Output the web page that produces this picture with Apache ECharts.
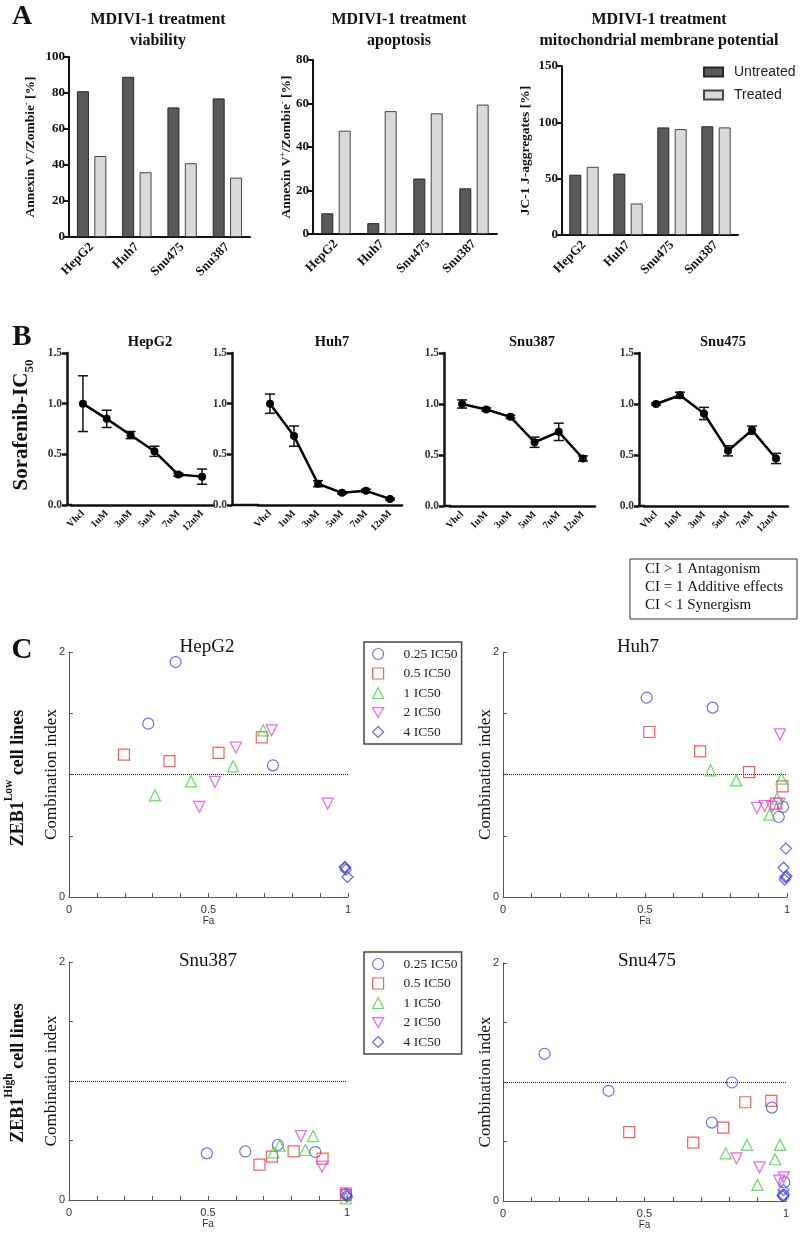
<!DOCTYPE html>
<html><head><meta charset="utf-8">
<script src="https://cdn.jsdelivr.net/npm/echarts/dist/echarts.min.js"></script>
<style>html,body{margin:0;padding:0;background:#fff}#c{width:800px;height:1240px}</style>
</head><body><div id="c"></div><script>
// ---------- DATA ----------
const cellLines = ['HepG2', 'Huh7', 'Snu475', 'Snu387'];
const viabilityUntreated = [81, 89, 72, 77];
const viabilityTreated = [45, 36, 41, 33];
const apoptosisUntreated = [9.5, 5, 25.5, 21];
const apoptosisTreated = [47.5, 56.5, 55.5, 59.5];
const mmpUntreated = [53.5, 54.5, 95.5, 96.5];
const mmpTreated = [60.5, 28, 94, 95.5];

const doses = ['Vhcl', '1uM', '3uM', '5uM', '7uM', '12uM'];
const ic50HepG2 = [1.00, 0.85, 0.69, 0.53, 0.30, 0.28];
const errHepG2 = [0.275, 0.085, 0.035, 0.05, 0.015, 0.075];
const ic50Huh7 = [1.00, 0.68, 0.21, 0.12, 0.14, 0.06];
const errHuh7 = [0.095, 0.10, 0.03, 0.01, 0.015, 0.01];
const ic50Snu387 = [1.00, 0.946, 0.874, 0.625, 0.727, 0.466];
const errSnu387 = [0.04, 0.015, 0.015, 0.05, 0.085, 0.025];
const ic50Snu475 = [1.00, 1.086, 0.907, 0.541, 0.744, 0.466];
const errSnu475 = [0.01, 0.03, 0.06, 0.05, 0.04, 0.05];

const doseNames = ['0.25 IC50', '0.5 IC50', '1 IC50', '2 IC50', '4 IC50'];
const hepg2Q = [[0.382, 1.918], [0.284, 1.415], [0.731, 1.075]];
const hepg2H = [[0.197, 1.162], [0.360, 1.110], [0.536, 1.176], [0.691, 1.303]];
const hepg2One = [[0.308, 0.830], [0.437, 0.944], [0.588, 1.067], [0.696, 1.361]];
const hepg2Two = [[0.467, 0.735], [0.523, 0.939], [0.598, 1.219], [0.726, 1.361], [0.927, 0.762]];
const hepg2Four = [[0.988, 0.245], [0.992, 0.223], [0.998, 0.163], [0.990, 0.240]];

const huh7Q = [[0.506, 1.627], [0.738, 1.546], [0.986, 0.735], [0.971, 0.653]];
const huh7H = [[0.515, 1.347], [0.694, 1.189], [0.866, 1.020], [0.984, 0.903], [0.962, 0.762]];
const huh7One = [[0.731, 1.034], [0.821, 0.952], [0.980, 0.966], [0.965, 0.803], [0.938, 0.672]];
const huh7Two = [[0.975, 1.328], [0.894, 0.727], [0.921, 0.743], [0.947, 0.735], [0.973, 0.762]];
const huh7Four = [[0.996, 0.395], [0.988, 0.239], [0.994, 0.163], [0.992, 0.141], [0.998, 0.169]];

const snu387Q = [[0.496, 0.392], [0.634, 0.408], [0.751, 0.462], [0.886, 0.403], [0.996, 0.050]];
const snu387H = [[0.685, 0.297], [0.730, 0.364], [0.808, 0.408], [0.912, 0.347], [0.996, 0.042]];
const snu387One = [[0.736, 0.400], [0.757, 0.456], [0.850, 0.420], [0.878, 0.537], [0.996, 0.014]];
const snu387Two = [[0.834, 0.537], [0.910, 0.280], [0.996, 0.056]];
const snu387Four = [[1.000, 0.028], [0.998, 0.042]];

const snu475Q = [[0.147, 1.237], [0.373, 0.926], [0.809, 0.996], [0.950, 0.785], [0.738, 0.659], [0.994, 0.157], [0.991, 0.050]];
const snu475H = [[0.446, 0.578], [0.672, 0.491], [0.778, 0.617], [0.856, 0.830], [0.948, 0.842]];
const snu475One = [[0.787, 0.401], [0.862, 0.471], [0.961, 0.351], [0.979, 0.471], [0.899, 0.135]];
const snu475Two = [[0.825, 0.359], [0.906, 0.283], [0.976, 0.171], [0.992, 0.199]];
const snu475Four = [[0.991, 0.093], [0.991, 0.050], [0.988, 0.042]];

// ---------- STYLE / LAYOUT ----------
const SERIF = '"Liberation Serif", "Times New Roman", serif';
const SANS = '"Liberation Sans", Arial, sans-serif';

const aCfg = [
  {left: 69, top: 57, width: 181, height: 180, max: 100, interval: 20, nameGap: 31,
   name: '{a|Annexin V}{s|-}{a|/Zombie}{s|-}{a| [%]}', u: viabilityUntreated, t: viabilityTreated,
   title: 'MDIVI-1 treatment\nviability', tx: 158},
  {left: 313, top: 60, width: 184, height: 174, max: 80, interval: 20, nameGap: 19,
   name: '{a|Annexin V}{s|+}{a|/Zombie}{s|-}{a| [%]}', u: apoptosisUntreated, t: apoptosisTreated,
   title: 'MDIVI-1 treatment\napoptosis', tx: 399},
  {left: 562, top: 66, width: 176, height: 169, max: 150, interval: 50, nameGap: 29,
   name: '{a|JC-1 J-aggregates [%]}', u: mmpUntreated, t: mmpTreated,
   title: 'MDIVI-1 treatment\nmitochondrial membrane potential', tx: 659}
];

const bCfg = [
  {title: 'HepG2', tx: 150, left: 71, axisX: 67, width: 143, top: 353, height: 152, v: ic50HepG2, e: errHepG2},
  {title: 'Huh7', tx: 332, left: 258, axisX: 232, width: 144, top: 353, height: 152, v: ic50Huh7, e: errHuh7},
  {title: 'Snu387', tx: 532, left: 450, axisX: 444, width: 145, top: 353, height: 153, v: ic50Snu387, e: errSnu387},
  {title: 'Snu475', tx: 723, left: 644, axisX: 639, width: 144, top: 353, height: 153, v: ic50Snu475, e: errSnu475}
];

const cCfg = [
  {title: 'HepG2', tx: 207, ty: 647, left: 69, top: 652, width: 279, height: 245, sets: [hepg2Q, hepg2H, hepg2One, hepg2Two, hepg2Four]},
  {title: 'Huh7', tx: 638, ty: 647, left: 503, top: 652, width: 284, height: 245, sets: [huh7Q, huh7H, huh7One, huh7Two, huh7Four]},
  {title: 'Snu387', tx: 208, ty: 961, left: 69, top: 962, width: 278, height: 238, sets: [snu387Q, snu387H, snu387One, snu387Two, snu387Four]},
  {title: 'Snu475', tx: 647, ty: 961, left: 503, top: 963, width: 283, height: 238, sets: [snu475Q, snu475H, snu475One, snu475Two, snu475Four]}
];

const doseStyle = [
  {symbol: 'circle', rotate: 0, color: '#4848e4', icon: 'circle'},
  {symbol: 'rect', rotate: 0, color: '#ec3a3a', icon: 'rect'},
  {symbol: 'triangle', rotate: 0, color: '#3cd63c', icon: 'triangle'},
  {symbol: 'triangle', rotate: 180, color: '#ee3cee', icon: 'path://M0,0L10,0L5,9Z'},
  {symbol: 'diamond', rotate: 0, color: '#4242e6', icon: 'diamond'}
];

function errRender(params, api) {
  const x = api.value(0), lo = api.value(1), hi = api.value(2);
  const pLo = api.coord([x, lo]), pHi = api.coord([x, hi]);
  const w = 5;
  const style = {stroke: '#111', lineWidth: 1.5};
  return {type: 'group', children: [
    {type: 'line', shape: {x1: pLo[0], y1: pLo[1], x2: pHi[0], y2: pHi[1]}, style: style},
    {type: 'line', shape: {x1: pLo[0] - w, y1: pLo[1], x2: pLo[0] + w, y2: pLo[1]}, style: style},
    {type: 'line', shape: {x1: pHi[0] - w, y1: pHi[1], x2: pHi[0] + w, y2: pHi[1]}, style: style}
  ]};
}

const option = {animation: false, backgroundColor: '#fff', grid: [], xAxis: [], yAxis: [], series: [], legend: [], graphic: []};

function txt(text, x, y, size, weight, family, lineHeight) {
  const st = {text: text, fontSize: size, fontWeight: weight, fontFamily: family, fill: '#111',
    align: 'center', verticalAlign: 'middle', textAlign: 'center', textVerticalAlign: 'middle'};
  if (lineHeight) st.lineHeight = lineHeight;
  return {type: 'text', x: x, y: y, z: 100, style: st};
}

// ---------- PANEL A ----------
aCfg.forEach(function (c, i) {
  option.grid.push({left: c.left, top: c.top, width: c.width, height: c.height, outerBoundsMode: 'none'});
  option.xAxis.push({type: 'category', gridIndex: i, data: cellLines,
    axisLine: {lineStyle: {color: '#111', width: 2}},
    axisTick: {alignWithLabel: true, length: 5, lineStyle: {color: '#111', width: 2}},
    axisLabel: {rotate: 45, interval: 0, margin: 8, color: '#111', fontFamily: SERIF, fontWeight: 'bold', fontSize: 13}});
  option.yAxis.push({type: 'value', gridIndex: i, min: 0, max: c.max, interval: c.interval,
    axisLine: {show: true, lineStyle: {color: '#111', width: 2}},
    axisTick: {show: true, length: 5, lineStyle: {color: '#111', width: 2}},
    splitLine: {show: false},
    axisLabel: {color: '#111', fontFamily: SERIF, fontWeight: 'bold', fontSize: 13, margin: 4},
    name: c.name, nameLocation: 'middle', nameGap: c.nameGap, nameMoveOverlap: false,
    nameTextStyle: {color: '#111', fontFamily: SERIF, fontWeight: 'bold', fontSize: 13.5,
      rich: {a: {fontFamily: SERIF, fontWeight: 'bold', fontSize: 13.5, lineHeight: 15},
             s: {fontFamily: SERIF, fontWeight: 'bold', fontSize: 8, lineHeight: 8, verticalAlign: 'top'}}}});
  option.series.push({type: 'bar', name: 'Untreated', xAxisIndex: i, yAxisIndex: i, data: c.u,
    barWidth: 12, barGap: '45%', itemStyle: {color: '#5a5a5a', borderColor: '#262626', borderWidth: 1}});
  option.series.push({type: 'bar', name: 'Treated', xAxisIndex: i, yAxisIndex: i, data: c.t,
    barWidth: 12, barGap: '45%', itemStyle: {color: '#d9d9d9', borderColor: '#454545', borderWidth: 1}});
  option.graphic.push(txt(c.title, c.tx, 30, 16, 'bold', SERIF, 21));
});
option.legend.push({data: ['Untreated', 'Treated'], orient: 'vertical', left: 703, top: 65, padding: 0,
  itemWidth: 19, itemHeight: 9, itemGap: 9, icon: 'rect',
  textStyle: {fontFamily: SANS, fontSize: 14, color: '#222', padding: [0, 0, 0, 6]}});

// ---------- PANEL B ----------
bCfg.forEach(function (c, k) {
  const gi = 3 + k;
  option.grid.push({left: c.left, top: c.top, width: c.width, height: c.height, outerBoundsMode: 'none'});
  option.xAxis.push({type: 'category', gridIndex: gi, data: doses, boundaryGap: true,
    axisLine: {lineStyle: {color: '#111', width: 2.5}},
    axisTick: {alignWithLabel: true, length: 6, lineStyle: {color: '#111', width: 2.5}},
    axisLabel: {rotate: 45, interval: 0, margin: 7, color: '#111', fontFamily: SERIF, fontWeight: 'bold', fontSize: 10}});
  option.yAxis.push({type: 'value', gridIndex: gi, min: 0, max: 1.5, interval: 0.5, offset: c.left - c.axisX,
    axisLine: {show: true, lineStyle: {color: '#111', width: 2.5}},
    axisTick: {show: true, length: 5, lineStyle: {color: '#111', width: 2.5}},
    splitLine: {show: false},
    axisLabel: {color: '#333', fontFamily: SERIF, fontWeight: 'bold', fontSize: 11.5, margin: 5,
      formatter: function (v) { return v.toFixed(1); }}});
  option.series.push({type: 'custom', name: c.title + ' SD', xAxisIndex: gi, yAxisIndex: gi, renderItem: errRender,
    data: doses.map(function (d, i) { return [i, c.v[i] - c.e[i], c.v[i] + c.e[i]]; }),
    encode: {x: 0, y: [1, 2]}, z: 3});
  option.series.push({type: 'line', name: c.title, xAxisIndex: gi, yAxisIndex: gi, data: c.v,
    symbol: 'circle', symbolSize: 8, lineStyle: {color: '#000', width: 2.5}, itemStyle: {color: '#000'}, z: 4});
  option.graphic.push({type: 'line', z: 50, shape: {x1: c.axisX, y1: c.top + c.height, x2: c.left + 1, y2: c.top + c.height},
    style: {stroke: '#111', lineWidth: 2.5}});
  option.graphic.push(txt(c.title, c.tx, 342, 14.5, 'bold', SERIF));
});
option.graphic.push({type: 'text', x: 22, y: 425, rotation: Math.PI / 2, z: 100, style: {
  text: '{a|Sorafenib-IC}{b|50}', fill: '#111',
  rich: {a: {fontFamily: SERIF, fontWeight: 'bold', fontSize: 21, lineHeight: 28},
         b: {fontFamily: SERIF, fontWeight: 'bold', fontSize: 13, lineHeight: 13, verticalAlign: 'bottom'}},
  align: 'center', verticalAlign: 'middle', textAlign: 'center', textVerticalAlign: 'middle'}});
option.graphic.push({type: 'rect', z: 90, shape: {x: 630, y: 559, width: 167, height: 60},
  style: {fill: 'none', stroke: '#333', lineWidth: 1}});
['CI > 1 Antagonism', 'CI = 1 Additive effects', 'CI < 1 Synergism'].forEach(function (t, i) {
  option.graphic.push({type: 'text', x: 645, y: 569 + i * 18, z: 100, style: {
    text: t, fill: '#111', fontFamily: SERIF, fontSize: 15, align: 'left', verticalAlign: 'middle',
    textAlign: 'left', textVerticalAlign: 'middle'}});
});

// ---------- PANEL C ----------
cCfg.forEach(function (c, k) {
  const gi = 7 + k;
  option.grid.push({left: c.left, top: c.top, width: c.width, height: c.height, outerBoundsMode: 'none'});
  option.xAxis.push({type: 'value', gridIndex: gi, min: 0, max: 1, interval: 0.1,
    axisLine: {lineStyle: {color: '#555', width: 1}},
    axisTick: {inside: true, length: 4, lineStyle: {color: '#555', width: 1}},
    splitLine: {show: false},
    axisLabel: {color: '#333', fontFamily: SANS, fontSize: 11, margin: 7,
      formatter: function (v) {
        if (Math.abs(v) < 1e-6) return '0';
        if (Math.abs(v - 0.5) < 1e-6) return '0.5';
        if (Math.abs(v - 1) < 1e-6) return '1';
        return '';
      }},
    name: 'Fa', nameLocation: 'middle', nameGap: 19, nameMoveOverlap: false,
    nameTextStyle: {color: '#333', fontFamily: SANS, fontSize: 10}});
  option.yAxis.push({type: 'value', gridIndex: gi, min: 0, max: 2, interval: 0.5,
    axisLine: {show: true, lineStyle: {color: '#555', width: 1}},
    axisTick: {show: true, inside: true, length: 4, lineStyle: {color: '#555', width: 1}},
    splitLine: {show: false},
    axisLabel: {color: '#333', fontFamily: SANS, fontSize: 11, margin: 4,
      formatter: function (v) { return (Math.abs(v) < 1e-6 || Math.abs(v - 2) < 1e-6) ? String(Math.round(v)) : ''; }},
    name: 'Combination index', nameLocation: 'middle', nameGap: 9, nameMoveOverlap: false,
    nameTextStyle: {color: '#111', fontFamily: SERIF, fontSize: 17}});
  c.sets.forEach(function (arr, j) {
    const st = doseStyle[j];
    const s = {type: 'scatter', name: doseNames[j], xAxisIndex: gi, yAxisIndex: gi, data: arr,
      symbol: st.symbol, symbolRotate: st.rotate, symbolSize: 11, symbolKeepAspect: true, clip: false,
      itemStyle: {color: 'rgba(255,255,255,0)', borderColor: st.color, borderWidth: 1.2}, z: 5};
    if (j === 0) {
      s.markLine = {silent: true, symbol: ['none', 'none'], label: {show: false},
        lineStyle: {type: 'dotted', color: '#222', width: 1}, data: [{yAxis: 1}]};
    }
    option.series.push(s);
  });
  option.graphic.push(txt(c.title, c.tx, c.ty, 19, 'normal', SERIF));
});
[642, 952].forEach(function (top) {
  option.legend.push({
    data: doseNames.map(function (n, j) {
      return {name: n, icon: doseStyle[j].icon,
        itemStyle: {color: 'rgba(255,255,255,0)', borderColor: doseStyle[j].color, borderWidth: 1.2}};
    }),
    orient: 'vertical', left: 364, top: top,
    padding: [5, 4, 5, 8], itemWidth: 11, itemHeight: 11, itemGap: 5.5,
    borderColor: '#444', borderWidth: 1.5,
    textStyle: {fontFamily: SERIF, fontSize: 13.5, color: '#222', padding: [0, 0, 0, 15]}});
});

// ZEB1 side labels
function zebLabel(sup, cy) {
  return {type: 'text', x: 18, y: cy, rotation: Math.PI / 2, z: 100, style: {
    text: '{a|ZEB1}{s|' + sup + '}{a| cell lines}', fill: '#111',
    rich: {a: {fontFamily: SERIF, fontWeight: 'bold', fontSize: 18, lineHeight: 30},
           s: {fontFamily: SERIF, fontWeight: 'bold', fontSize: 11.5, lineHeight: 12, verticalAlign: 'top'}},
    align: 'center', verticalAlign: 'middle', textAlign: 'center', textVerticalAlign: 'middle'}};
}
option.graphic.push(zebLabel('Low', 778));
option.graphic.push(zebLabel('High', 1073));

// Panel letters
option.graphic.push(txt('A', 22, 17, 28, 'bold', SERIF));
option.graphic.push(txt('B', 22, 338, 29, 'bold', SERIF));
option.graphic.push(txt('C', 22, 651, 29, 'bold', SERIF));

const chart = echarts.init(document.getElementById('c'), null, {renderer: 'canvas'});
chart.setOption(option);
</script></body></html>
